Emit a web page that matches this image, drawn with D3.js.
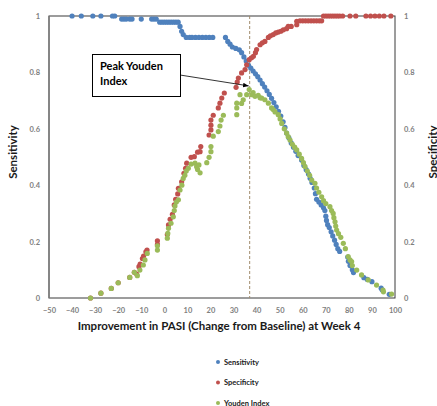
<!DOCTYPE html>
<html>
<head>
<meta charset="utf-8">
<script src="https://cdn.jsdelivr.net/npm/d3@7"></script>
<style>
  body { margin: 0; background: #fff; }
  svg text { font-family: Lato, "Open Sans", sans-serif; }
</style>
</head>
<body>
<svg id="chart" width="437" height="406"></svg>
<script>
// x = improvement in PASI, y = value
const sensitivity = [
  [-40,1],[-36,1],[-31,1],[-27.5,1],[-22.5,1],[-21.5,1],
  [-18.5,.989],[-17.5,.989],[-16.5,.989],[-15,.989],[-14,.989],[-10,.989],[-5.5,.989],[-4.5,.989],[-3.5,.989],
  [-2,.978],[-1,.978],[0,.978],[1,.978],[2,.978],[3,.978],[4,.978],[5,.978],[6,.978],
  [6.8,.963],[7.5,.946],[8.2,.934],[9.5,.924],[11,.924],[12,.924],[13.5,.924],[15,.924],[16.5,.924],[18,.924],[19.5,.924],[21,.924],
  [26.5,.924],[27.5,.91],[28.5,.9],[29.5,.89],[31,.885],[32.5,.88],[33.5,.87],[34.5,.855],[35.5,.84],[36.5,.825],
  [37.5,.815],[38.5,.805],[39.5,.795],[40.5,.785],[41.5,.773],[42.5,.76],[43.5,.748],[44.5,.735],[45.5,.722],
  [46.5,.708],[47.5,.693],[48.5,.678],[49.5,.662],[50.5,.645],[51.5,.625],[52.3,.605],[53,.585],[54,.568],
  [55,.55],[56,.535],[57,.52],[58,.505],[59.5,.489],[60.5,.47],[61.5,.455],[62.5,.44],[63.2,.425],[64,.41],
  [65,.39],[65.5,.37],[66,.35],[67,.34],[68,.33],[69,.32],[69.6,.31],[70,.29],[70.3,.275],[70.8,.26],[71.5,.25],
  [72.3,.235],[73,.22],[73.8,.205],[74.5,.19],[75.2,.175],[76,.165],[79.5,.145],[79.8,.13],[80.5,.115],[81.5,.1],
  [82,.09],[86.5,.072],[88,.066],[90,.058],[94,.035],[94.5,.028],[97.5,.013]
];

const specificity = [
  [-32,0],[-27.5,.017],[-23,.034],[-20,.054],[-15,.073],[-13,.091],[-12,.085],[-11,.111],[-10.5,.12],[-9.5,.14],
  [-9,.149],[-8,.164],[-7.5,.17],[-3,.203],[-3,.19],
  [1.3,.225],[1.8,.259],[2.5,.279],[3.5,.297],[4.3,.33],[4.9,.35],[5.8,.369],[6.1,.389],[7.5,.412],[8.5,.442],
  [9.2,.46],[9.7,.478],[11.6,.499],[13,.501],[14.4,.517],[15.5,.519],[15.8,.537],[19.4,.578],[20.2,.596],
  [20.2,.613],[20.2,.631],[21.2,.648],[23.4,.674],[24.1,.691],[24.9,.709],[26,.727],[31.1,.747],[31.6,.766],
  [32.1,.78],[33.5,.798],[35,.81],[35.7,.827],[36.8,.845],[37.8,.852],[38.6,.857],[39.5,.87],[40,.881],
  [41.5,.898],[42.5,.905],[43.6,.91],[45.1,.924],[46,.93],[47.2,.934],[48.3,.94],[49.4,.943],[50.5,.946],
  [51.6,.951],[53,.955],[53.7,.963],[55,.963],[57.4,.969],[57.4,.981],[58.8,.983],[60,.983],[61.2,.983],
  [62.4,.983],[63.6,.983],[64.8,.983],[66,.983],[67.2,.983],[68.2,.983],[69,1],[70,1],[71,1],[72,1],[73,1],
  [74,1],[75,1],[76,1],[77.3,1],[80.5,1],[83,1],[87.4,1],[89.4,1],[91.3,1],[93.2,1],[95.2,1],[98.2,1]
];

const youden = [
  [-32,0],[-27.5,.017],[-23,.034],[-20,.054],[-15,.073],[-13,.091],[-11.7,.079],[-10.6,.099],[-9.1,.117],
  [-8.4,.135],[-7.4,.158],[-3,.17],[-3,.185],[1.3,.212],[1.5,.229],[1.8,.247],[2.9,.265],[3.9,.288],[4.3,.31],
  [4.6,.326],[5.2,.34],[6.1,.348],[6.8,.383],[7.6,.4],[8.2,.424],[8.9,.435],[9.5,.45],[10.4,.46],[11.6,.475],
  [13.3,.478],[14,.465],[14.4,.456],[15.5,.444],[15,.472],[18.4,.48],[19.4,.499],[20.2,.519],[20.2,.537],
  [21.2,.574],[23.4,.59],[24.1,.61],[24.6,.631],[25.6,.648],[31.4,.65],[31.4,.674],[31.4,.691],[32.8,.721],
  [33.5,.69],[34.2,.703],[35.7,.721],[36.8,.739],[37.9,.721],[38.5,.728],[39.3,.715],[40.7,.719],[41.5,.71],
  [42.2,.709],[43.6,.703],[45.1,.691],[46.5,.674],[47.2,.668],[48,.66],[49.4,.65],[50.2,.635],[50.9,.619],
  [52,.6],[53,.585],[53.7,.572],[54.5,.56],[55.5,.545],[56.5,.535],[57.4,.525],[58.5,.51],[59.5,.495],
  [60.3,.48],[61,.466],[62,.45],[63,.435],[63.9,.418],[65.3,.407],[66,.39],[67,.375],[68.2,.359],[69,.345],
  [70,.335],[71.8,.324],[72.5,.31],[73.2,.3],[73.5,.285],[74,.27],[74.3,.255],[74.7,.241],[75.5,.228],
  [76.5,.215],[77.6,.194],[78.5,.175],[79.7,.147],[80.5,.135],[81.2,.129],[81.5,.115],[83.4,.099],[85.5,.082],
  [88.4,.064],[92,.046],[94.8,.028],[95,.022],[98.5,.014]
];

const seriesNames = ['Sensitivity', 'Specificity', 'Youden Index'];
const seriesColors = ['#4F81BD', '#C0504D', '#9BBB59'];
const xTicks = d3.range(-50, 101, 10);
const yTicks = [0, 0.2, 0.4, 0.6, 0.8, 1];
const yTickLabels = ['0', '0.2', '0.4', '0.6', '0.8', '1'];
const peakX = 37;
const peakY = 0.745;

const svg = d3.select('#chart');
const plot = {left: 49, right: 395, top: 16, bottom: 298};

const x = d3.scaleLinear().domain([-50, 100]).range([plot.left, plot.right]);
const y = d3.scaleLinear().domain([0, 1]).range([plot.bottom, plot.top]);

// plot frame
svg.append('rect')
  .attr('x', plot.left).attr('y', plot.top)
  .attr('width', plot.right - plot.left).attr('height', plot.bottom - plot.top)
  .style('fill', 'none').style('stroke', '#3a3a3a').style('stroke-width', 1);
svg.append('line')
  .attr('x1', plot.left).attr('x2', plot.left).attr('y1', plot.top).attr('y2', plot.bottom)
  .style('stroke', '#7f7f7f').style('stroke-width', 1.5);

// axes (labels only)
const tickStyle = g => {
  g.select('.domain').remove();
  g.selectAll('.tick line').remove();
  g.selectAll('text').style('font-size', '7.5px').style('font-weight', 'bold')
    .style('fill', '#7f7f7f').style('font-family', 'Lato, sans-serif');
};
svg.append('g').attr('transform', `translate(0,${plot.bottom})`)
  .call(d3.axisBottom(x).tickValues(xTicks).tickSize(0).tickPadding(10))
  .call(tickStyle);
svg.append('g').attr('transform', `translate(${plot.left},0)`)
  .call(d3.axisLeft(y).tickValues(yTicks).tickFormat((d, i) => yTickLabels[i]).tickSize(0).tickPadding(9))
  .call(tickStyle);
svg.append('g').attr('transform', `translate(${plot.right},0)`)
  .call(d3.axisRight(y).tickValues(yTicks).tickFormat((d, i) => yTickLabels[i]).tickSize(0).tickPadding(9))
  .call(tickStyle);

// peak line
svg.append('line')
  .attr('x1', x(peakX)).attr('x2', x(peakX)).attr('y1', plot.top).attr('y2', plot.bottom)
  .style('stroke', '#a08c6c').style('stroke-width', 1).style('stroke-dasharray', '3,2');

// points
[sensitivity, specificity, youden].forEach((data, i) => {
  svg.append('g').selectAll('circle')
    .data(data)
    .enter()
    .append('circle')
    .attr('cx', d => x(d[0]))
    .attr('cy', d => y(d[1]))
    .attr('r', 2.6)
    .style('fill', seriesColors[i]);
});

// axis titles
svg.append('text')
  .attr('x', (plot.left + plot.right) / 2 - 3).attr('y', 330)
  .attr('text-anchor', 'middle')
  .style('font-size', '11.5px').style('font-weight', 'bold').style('fill', '#1a1a1a')
  .text('Improvement in PASI (Change from Baseline) at Week 4');
svg.append('text')
  .attr('transform', 'translate(17,152) rotate(-90)')
  .attr('text-anchor', 'middle')
  .style('font-size', '11.5px').style('font-weight', 'bold').style('fill', '#1a1a1a')
  .text('Sensitivity');
svg.append('text')
  .attr('transform', 'translate(437,152) rotate(-90)')
  .attr('text-anchor', 'middle')
  .style('font-size', '11.5px').style('font-weight', 'bold').style('fill', '#1a1a1a')
  .text('Specificity');

// annotation
svg.append('defs').append('marker')
  .attr('id', 'arrow').attr('viewBox', '0 0 10 10')
  .attr('refX', 10).attr('refY', 5)
  .attr('markerWidth', 7).attr('markerHeight', 7)
  .attr('orient', 'auto')
  .append('path').attr('d', 'M0,1 L10,5 L0,9 z').style('fill', '#000');
svg.append('line')
  .attr('x1', 180).attr('y1', 75)
  .attr('x2', x(peakX) - 1).attr('y2', y(peakY) - 2)
  .style('stroke', '#000').style('stroke-width', 0.8)
  .attr('marker-end', 'url(#arrow)');
svg.append('rect')
  .attr('x', 92.5).attr('y', 54.5).attr('width', 88).attr('height', 42)
  .style('fill', '#fff').style('stroke', '#000').style('stroke-width', 1);
svg.append('text').attr('x', 100).attr('y', 70)
  .style('font-size', '11px').style('font-weight', 'bold').text('Peak Youden');
svg.append('text').attr('x', 100).attr('y', 85)
  .style('font-size', '11px').style('font-weight', 'bold').text('Index');

// legend
const legend = svg.append('g').attr('transform', 'translate(218,362)');
seriesNames.forEach((name, i) => {
  const row = legend.append('g').attr('transform', `translate(0,${i * 20.5})`);
  row.append('circle').attr('r', 2).style('fill', seriesColors[i]);
  row.append('text').attr('x', 6).attr('y', 2.8)
    .style('font-size', '7.5px').style('font-weight', 'bold').style('fill', '#1a1a1a')
    .text(name);
});
</script>
</body>
</html>
